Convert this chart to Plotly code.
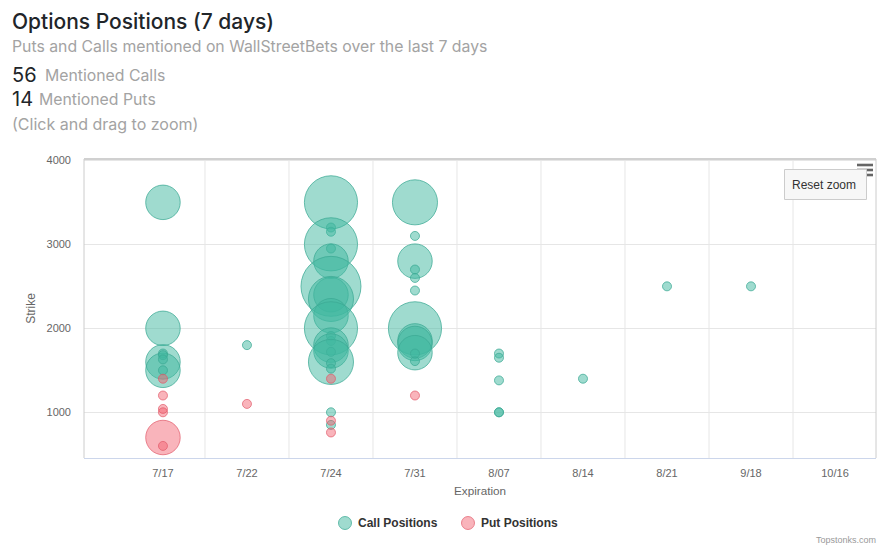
""" Options positions bubble chart, calls and puts by expiration and strike """
import math
import plotly.graph_objects as go

W, H = 895, 557
PLOT_L, PLOT_R, PLOT_T, PLOT_B = 84, 876, 159, 458

expirations = ["7/17", "7/22", "7/24", "7/31", "8/07", "8/14", "8/21", "9/18", "10/16"]

call_expiry = ["7/17"] * 8 + ["7/22"] + ["7/24"] * 21 + ["7/31"] * 12 + ["8/07"] * 5 + ["8/14", "8/21", "9/18"]
call_strike = [3500, 2000, 1600, 1500, 1700, 1680, 1630, 1500,
               1800,
               3500, 3200, 3150, 3000, 2950, 2800, 2500, 2400, 2350, 2150, 2000, 1910, 1850,
               1800, 1730, 1720, 1600, 1585, 1520, 1000, 850,
               3500, 3100, 2800, 2700, 2600, 2450, 2000, 1850, 1820, 1710, 1610, 1700,
               1700, 1650, 1380, 1000, 1000,
               1400, 2500, 2500]
call_mentions = [3, 3, 3, 3, 1, 1, 1, 1,
                 1,
                 7, 1, 1, 7, 1, 3, 9, 3, 5, 3, 7, 1, 1,
                 3, 3, 1, 5, 1, 1, 1, 1,
                 5, 1, 3, 1, 1, 1, 7, 3, 3, 3, 1, 1,
                 1, 1, 1, 1, 1,
                 1, 1, 1]

put_expiry = ["7/17"] * 6 + ["7/22"] + ["7/24"] * 3 + ["7/31"]
put_strike = [1400, 1200, 1040, 1000, 700, 600, 1100, 1400, 900, 760, 1200]
put_mentions = [1, 1, 1, 1, 3, 1, 1, 1, 1, 1, 1]

CALL_FILL, CALL_LINE = "rgba(64,184,160,0.5)", "rgba(60,170,148,0.75)"
PUT_FILL, PUT_LINE = "rgba(243,92,106,0.46)", "rgba(225,90,105,0.7)"


def bubble_size(mentions):
    # area scale between 9px and 60px, 1 to 9 mentions
    return [9 + math.sqrt((m - 1) / 8) * 51 for m in mentions]


def px_x(x):
    return (x - PLOT_L) / (PLOT_R - PLOT_L)


def px_y(y):
    return (PLOT_B - y) / (PLOT_B - PLOT_T)


fig = go.Figure()
fig.add_trace(go.Scatter(
    x=call_expiry, y=call_strike, mode="markers", name="Call Positions",
    marker=dict(size=bubble_size(call_mentions), sizemode="diameter", opacity=1,
                color=CALL_FILL, line=dict(color=CALL_LINE, width=1)),
))
fig.add_trace(go.Scatter(
    x=put_expiry, y=put_strike, mode="markers", name="Put Positions",
    marker=dict(size=bubble_size(put_mentions), sizemode="diameter", opacity=1,
                color=PUT_FILL, line=dict(color=PUT_LINE, width=1)),
))


def label(text, x, y, size, color, family="Inter", anchor="left", weight=400):
    fig.add_annotation(text=text, x=px_x(x), y=px_y(y), xref="paper", yref="paper",
                       xanchor=anchor, yanchor="middle", showarrow=False,
                       font=dict(family=family, size=size, color=color, weight=weight))


label("Options Positions (7 days)", 10, 21, 21, "#212529", weight=500)
label("Puts and Calls mentioned on WallStreetBets over the last 7 days", 10, 46, 15.8, "#a3a3a3")
label("56", 10, 75, 20, "#212529")
label("Mentioned Calls", 43, 76, 15.8, "#a3a3a3")
label("14", 10, 99, 20, "#212529")
label("Mentioned Puts", 37, 100, 15.8, "#a3a3a3")
label("(Click and drag to zoom)", 10, 124, 16, "#a3a3a3")
label("Topstonks.com", 878, 540, 9, "#999999", "Liberation Sans", "right")
label("Reset zoom", 824, 185, 12, "#333333", "Liberation Sans", "center")
label("Call Positions", 356, 523, 12, "#333333", "Liberation Sans", weight=700)
label("Put Positions", 479, 523, 12, "#333333", "Liberation Sans", weight=700)

# gridlines between the expirations, none in front of the first one
shapes = [dict(type="line", xref="x", yref="paper", x0=i + 0.5, x1=i + 0.5, y0=0, y1=1,
               layer="below", line=dict(color="#e6e6e6", width=1))
          for i in range(len(expirations) - 1)]

# plot frame
shapes += [
    dict(type="line", xref="paper", yref="paper", x0=0, x1=0, y0=0, y1=1, line=dict(color="#cccccc", width=1)),
    dict(type="line", xref="paper", yref="paper", x0=0, x1=1, y0=1, y1=1, line=dict(color="#d0d0d0", width=2)),
    dict(type="line", xref="paper", yref="paper", x0=1, x1=1, y0=0, y1=1, line=dict(color="#cccccc", width=1)),
]

# export menu lines and the zoom button
for menu_y in (165, 170, 175):
    shapes.append(dict(type="line", xref="paper", yref="paper",
                       x0=px_x(857), x1=px_x(873), y0=px_y(menu_y), y1=px_y(menu_y),
                       line=dict(color="#666666", width=2.6)))
shapes.append(dict(type="rect", xref="paper", yref="paper",
                   x0=px_x(784.5), x1=px_x(866.5), y0=px_y(169.5), y1=px_y(199.5),
                   fillcolor="#f7f7f7", line=dict(color="#cccccc", width=1)))

# legend circles
for cx, fill, edge in ((345, CALL_FILL, CALL_LINE), (468, PUT_FILL, PUT_LINE)):
    shapes.append(dict(type="circle", xref="paper", yref="paper",
                       x0=px_x(cx - 6.5), x1=px_x(cx + 6.5), y0=px_y(523 - 6.5), y1=px_y(523 + 6.5),
                       fillcolor=fill, line=dict(color=edge, width=1)))

fig.update_layout(
    width=W, height=H,
    margin=dict(l=PLOT_L, r=W - PLOT_R, t=PLOT_T, b=H - PLOT_B, pad=0),
    plot_bgcolor="white", paper_bgcolor="white",
    shapes=shapes,
    showlegend=False,
    hovermode="closest",
    dragmode="zoom",
    xaxis=dict(
        type="category", categoryorder="array", categoryarray=expirations,
        range=[-0.94, 8.488], ticks="", showgrid=False,
        showline=True, linecolor="#ccd6eb", linewidth=1, zeroline=False,
        ticklabelstandoff=5,
        tickfont=dict(family="Liberation Sans", size=11, color="#666666"),
        title=dict(text="Expiration", standoff=8,
                   font=dict(family="Liberation Sans", size=11.7, color="#666666")),
    ),
    yaxis=dict(
        range=[456, 4016], tickvals=[1000, 2000, 3000, 4000], ticks="",
        gridcolor="#e6e6e6", gridwidth=1, zeroline=False,
        ticklabelstandoff=12,
        tickfont=dict(family="Liberation Sans", size=11, color="#666666"),
        title=dict(text="Strike", standoff=8,
                   font=dict(family="Liberation Sans", size=12, color="#666666")),
    ),
)

fig.write_html("out.html", config=dict(displayModeBar=False),
               post_script="document.body.style.margin='0';")
